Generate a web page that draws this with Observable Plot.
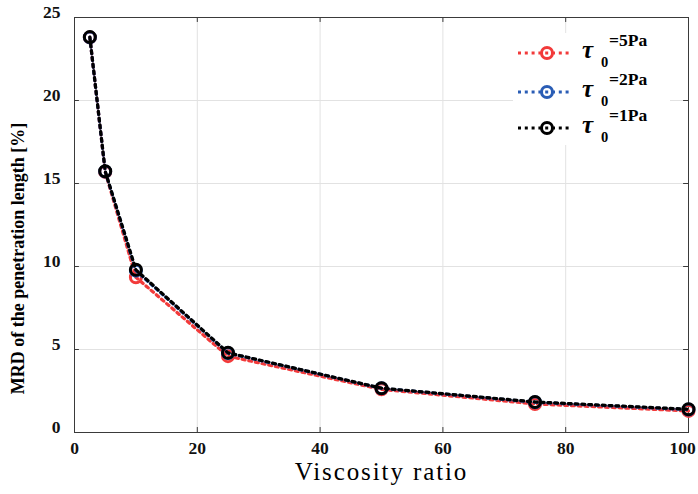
<!DOCTYPE html>
<html>
<head>
<meta charset="utf-8">
<script src="https://cdn.jsdelivr.net/npm/d3@7"></script>
<script src="https://cdn.jsdelivr.net/npm/@observablehq/plot@0.6"></script>
<style>
  body { margin: 0; background: #fff; }
  #wrap { position: relative; width: 698px; height: 494px; }
  #legend { position: absolute; left: 513px; top: 33px; width: 157px; height: 112px; background: #fff; }
  #legend svg { position: absolute; left: 0; overflow: visible; }
  #legend text { font-family: "Liberation Serif", "Times New Roman", serif; font-weight: bold; fill: #000; }
</style>
</head>
<body>
<div id="wrap"></div>
<script>
// Viscosity ratio on the x axis, MRD of the penetration length (%) per yield stress
const viscosityRatio = [2.5, 5, 10, 25, 50, 75, 100];
const mrd5Pa = [23.8, 15.7, 9.35, 4.6, 2.6, 1.72, 1.3];
const mrd2Pa = [23.8, 15.72, 9.75, 4.78, 2.66, 1.82, 1.38];
const mrd1Pa = [23.82, 15.74, 9.8, 4.8, 2.67, 1.84, 1.4];

const seriesNames = ["5Pa", "2Pa", "1Pa"];
const seriesValues = [mrd5Pa, mrd2Pa, mrd1Pa];
const seriesColors = ["#f23a3a", "#2a5db5", "#000000"];

const xTicks = [0, 20, 40, 60, 80, 100];
const yTicks = [0, 5, 10, 15, 20, 25];

const xTitle = "Viscosity ratio";
const yTitle = "MRD of the penetration length [%]";

const rows = seriesNames.flatMap((name, i) =>
  viscosityRatio.map((v, j) => ({series: name, x: v, y: seriesValues[i][j]}))
);

const font = '"Liberation Serif", "Times New Roman", serif';
const dash = "3,3.8";
const tickFont = {fontSize: 17.5, fontWeight: "bold", fill: "#111"};

const marks = [
  // grid
  Plot.ruleX(xTicks.slice(1, -1), {stroke: "#e2e2e2", strokeWidth: 1}),
  Plot.ruleY(yTicks.slice(1, -1), {stroke: "#e2e2e2", strokeWidth: 1}),
  Plot.frame({stroke: "#3a3a3a", strokeWidth: 1}),
  // inward ticks on all four sides
  Plot.ruleX(xTicks, {x: d => d, y1: 0, y2: 0.3, stroke: "#3a3a3a"}),
  Plot.ruleX(xTicks, {x: d => d, y1: 25, y2: 24.7, stroke: "#3a3a3a"}),
  Plot.ruleY(yTicks, {y: d => d, x1: 0, x2: 0.8, stroke: "#3a3a3a"}),
  Plot.ruleY(yTicks, {y: d => d, x1: 100, x2: 99.2, stroke: "#3a3a3a"}),
  // tick labels
  Plot.axisX({ticks: xTicks.slice(0, -1), tickSize: 0, tickPadding: 9, label: null, ...tickFont}),
  Plot.axisX({ticks: xTicks.slice(-1), tickSize: 0, tickPadding: 9, dx: -6, label: null, ...tickFont}),
  Plot.axisY({ticks: yTicks, tickSize: 0, tickPadding: 14, dy: -5, label: null, ...tickFont}),
];

seriesNames.forEach((name, i) => {
  const d = rows.filter(r => r.series === name);
  marks.push(Plot.line(d, {x: "x", y: "y", stroke: seriesColors[i], strokeWidth: 3.2, strokeDasharray: dash}));
  marks.push(Plot.dot(d, {x: "x", y: "y", r: 5.5, stroke: seriesColors[i], strokeWidth: 3, fill: "none"}));
});

marks.push(Plot.text([xTitle], {frameAnchor: "bottom", dy: 47, dx: 0, fontSize: 25, fill: "#000"}));
marks.push(Plot.text([yTitle], {
  frameAnchor: "left", textAnchor: "middle", rotate: -90, dx: -56, dy: 33.5,
  fontSize: 18, fontWeight: "bold", fill: "#000"
}));

const chart = Plot.plot({
  width: 698,
  height: 494,
  marginLeft: 74,
  marginRight: 10,
  marginTop: 17,
  marginBottom: 62,
  style: {fontFamily: font, color: "#111", background: "#fff"},
  x: {domain: [0, 100]},
  y: {domain: [0, 25]},
  marks
});

// widen the spacing of the x-axis title
d3.select(chart).selectAll("text")
  .filter(function () { return this.textContent === xTitle; })
  .style("letter-spacing", "1.9px");

const wrap = document.getElementById("wrap");
wrap.appendChild(chart);

// legend: dotted line sample, circle marker and τ0 label per series
const legend = document.createElement("div");
legend.id = "legend";
const rowTops = [0, 39, 75];
seriesNames.forEach((name, i) => {
  const c = seriesColors[i];
  const svg = document.createElementNS("http://www.w3.org/2000/svg", "svg");
  svg.setAttribute("width", 157);
  svg.setAttribute("height", 40);
  svg.style.top = rowTops[i] + "px";
  svg.innerHTML =
    `<line x1="5" y1="20" x2="59" y2="20" stroke="${c}" stroke-width="3.2" stroke-dasharray="${dash}"/>` +
    `<circle cx="34" cy="20" r="5.5" fill="none" stroke="${c}" stroke-width="3"/>` +
    `<text x="69" y="24.5" font-size="25" font-style="italic">τ</text>` +
    `<text x="88" y="34" font-size="14.5">0</text>` +
    `<text x="96" y="13" font-size="17.5">=${name}</text>`;
  legend.appendChild(svg);
});
wrap.appendChild(legend);
</script>
</body>
</html>
